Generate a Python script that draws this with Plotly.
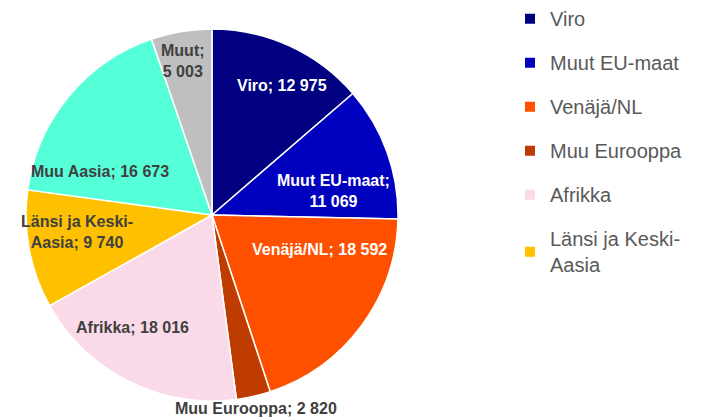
import math
import plotly.graph_objects as go

# ---- data ----
categories = ["Viro", "Muut EU-maat", "Venäjä/NL", "Muu Eurooppa", "Afrikka",
              "Länsi ja Keski-Aasia", "Muu Aasia", "Muut"]
values = [12975, 11069, 18592, 2820, 18016, 9740, 16673, 5003]
legend_names = ["Viro", "Muut EU-maat", "Venäjä/NL", "Muu Eurooppa", "Afrikka",
                "Länsi ja Keski-<br>Aasia"]
label_names = ["Viro", "Muut EU-maat", "Venäjä/NL", "Muu Eurooppa", "Afrikka",
               "Länsi ja Keski-<br>Aasia", "Muu Aasia", "Muut"]
label_seps = ["; ", ";<br>", "; ", "; ", "; ", "; ", "; ", ";<br>"]

# ---- style ----
colors = ["#000080", "#0000BF", "#FF5000", "#BF3C00", "#FADAE8", "#FFC000", "#55FFD8", "#BFBFBF"]
label_colors = ["white", "white", "white", "#404040", "#404040", "#404040", "#404040", "#404040"]
label_angle_offset = [3.9, 8.7, -18.55, 0, 8.4, 3.5, -18, -1.2]
label_radius = [0.79, 0.668, 0.61, 1.065, 0.74, 0.73, 0.647, 0.84]

W, H = 705, 420
OFF = 8  # page body margin
cx, cy, R = 212 - OFF, 215 - OFF, 186
FONT = "Arial, Liberation Sans, sans-serif"

fig = go.Figure()
fig.add_trace(go.Pie(
    labels=categories, values=values, sort=False, direction="clockwise", rotation=0,
    marker=dict(colors=colors, line=dict(color="white", width=1.5)),
    textinfo="none", hoverinfo="label+value", showlegend=False,
    domain=dict(x=[(cx - R) / W, (cx + R) / W], y=[1 - (cy + R) / H, 1 - (cy - R) / H]),
))

# legend entries
for i, name in enumerate(legend_names):
    fig.add_trace(go.Scatter(
        x=[None], y=[None], mode="markers", name=name, legendgroup=str(i),
        marker=dict(symbol="square", size=10, color=colors[i]), showlegend=True,
    ))

# slice labels
total = sum(values)
cum = 0
annotations = []
for i, v in enumerate(values):
    mid = (cum + v / 2) / total * 360
    cum += v
    th = math.radians(mid + label_angle_offset[i])
    r = label_radius[i] * R
    px = cx + r * math.sin(th)
    py = cy - r * math.cos(th)
    txt = label_names[i] + label_seps[i] + f"{v:,}".replace(",", " ")
    annotations.append(dict(
        x=px / W, y=1 - py / H, xref="paper", yref="paper", text=txt, showarrow=False,
        xanchor="center", yanchor="middle", align="center",
        font=dict(family=FONT, size=16, color=label_colors[i], weight="bold"),
    ))

fig.update_layout(
    width=W, height=H, margin=dict(l=0, r=0, t=0, b=0, autoexpand=False),
    paper_bgcolor="white", plot_bgcolor="white",
    xaxis=dict(visible=False), yaxis=dict(visible=False),
    annotations=annotations,
    legend=dict(x=(510 - OFF) / W, y=1.021, xanchor="left", yanchor="top", tracegroupgap=15,
                maxheight=800,
                font=dict(family=FONT, size=20, color="#595959"), bgcolor="rgba(0,0,0,0)"),
    font=dict(family=FONT),
)
fig.write_html("out.html")
